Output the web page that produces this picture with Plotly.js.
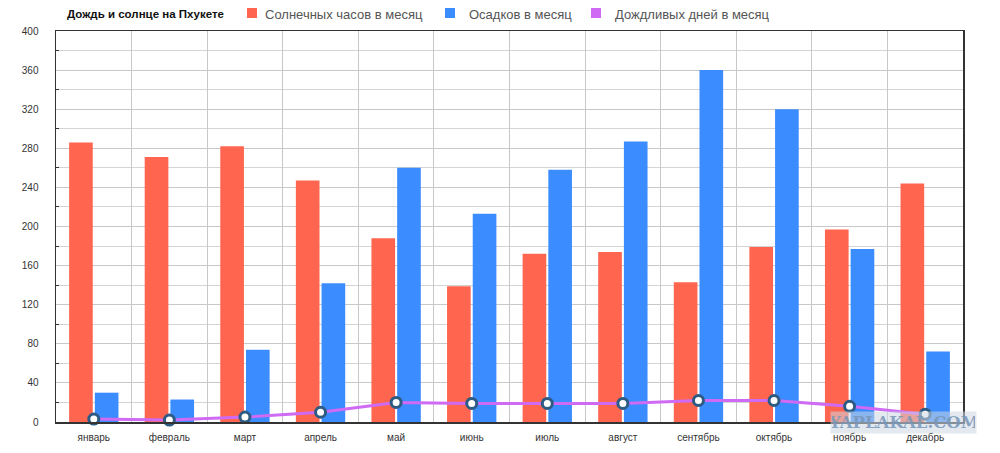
<!DOCTYPE html>
<html>
<head>
<meta charset="utf-8">
<script src="https://cdn.plot.ly/plotly-3.0.1.min.js"></script>
<style>html,body{margin:0;padding:0;background:#fff;}#chart{width:1000px;height:453px;}</style>
</head>
<body>
<div id="chart"></div>
<script>
const months = ["январь","февраль","март","апрель","май","июнь","июль","август","сентябрь","октябрь","ноябрь","декабрь"];
const sunHours = [286, 271, 282, 247, 188, 139, 172, 174, 143, 179, 197, 244];
const rainfall = [30, 23, 74, 142, 260, 213, 258, 287, 360, 320, 177, 72];
const rainyDays = [3, 2, 5, 10, 20, 19, 19, 19, 22, 22, 16, 8];
const seriesNames = ["Солнечных часов в месяц", "Осадков в месяц", "Дождливых дней в месяц"];
const seriesColors = ["#ff654f", "#3b8cff", "#cf6af5"];
const chartTitle = "Дождь и солнце на Пхукете";
const watermark = "YAPLAKAL.COM";

const L = 56, R = 963, T = 31, B = 422;
const px = x => (x - L) / (R - L);
const py = y => (B - y) / (B - T);

const traces = [
  {type: "bar", x: months, y: sunHours, name: seriesNames[0], marker: {color: seriesColors[0]}, showlegend: false, hoverinfo: "y"},
  {type: "bar", x: months, y: rainfall, name: seriesNames[1], marker: {color: seriesColors[1]}, showlegend: false, hoverinfo: "y"},
  {type: "scatter", mode: "lines+markers", x: months, y: rainyDays, name: seriesNames[2],
   line: {color: seriesColors[2], width: 3},
   marker: {size: 10, color: "#ffffff", line: {color: "#2d5b84", width: 3}},
   showlegend: false, cliponaxis: false}
];

const fontFam = "'Liberation Sans', Arial, Helvetica, sans-serif";

const shapes = [];
const annotations = [];
// title
annotations.push({xref: "paper", yref: "paper", x: px(65), y: py(14), xanchor: "left", yanchor: "middle",
  text: "<b>" + chartTitle + "</b>", showarrow: false,
  font: {family: "'Liberation Sans', Arial, sans-serif", size: 11.5, color: "#111"}});
// legend
const legSq = [247, 445, 591];
const legTx = [263, 467, 613];
for (let i = 0; i < 3; i++) {
  shapes.push({type: "rect", xref: "paper", yref: "paper", x0: px(legSq[i]), x1: px(legSq[i] + 10),
    y0: py(18), y1: py(8), fillcolor: seriesColors[i], line: {width: 0}});
  annotations.push({xref: "paper", yref: "paper", x: px(legTx[i]), y: py(14), xanchor: "left", yanchor: "middle",
    text: seriesNames[i], showarrow: false, font: {family: fontFam, size: 13, color: "#555"}});
}
// watermark
annotations.push({xref: "paper", yref: "paper", x: px(903), y: py(422), xanchor: "center", yanchor: "middle",
  text: "<b>" + watermark + "</b>", showarrow: false, bgcolor: "rgba(205,215,225,0.55)", width: 143, height: 19,
  font: {family: "'DejaVu Serif', serif", size: 16.5, color: "rgba(120,150,185,0.85)"}});

const layout = {
  width: 1000, height: 453,
  margin: {l: L, r: 1000 - R, t: T, b: 453 - B},
  paper_bgcolor: "#fff", plot_bgcolor: "#fff",
  barmode: "group", bargap: 0.32, bargroupgap: 0.08,
  font: {family: fontFam, size: 10, color: "#333"},
  xaxis: {type: "category", range: [-0.5, 11.5], tickson: "boundaries", showgrid: true, gridcolor: "#c8c8c8", gridwidth: 1,
    showline: true, mirror: true, linecolor: "#333", linewidth: 1.5, ticks: "", ticklabelstandoff: 5,
    tickfont: {family: fontFam, size: 10, color: "#333"}, zeroline: false, fixedrange: true},
  yaxis: {range: [0, 400], dtick: 40, tick0: 0, showgrid: true, gridcolor: "#c8c8c8", gridwidth: 1,
    showline: true, mirror: true, linecolor: "#333", linewidth: 1.5, ticks: "", ticklabelstandoff: 14,
    minor: {dtick: 20, showgrid: true, gridcolor: "#d4d4d4", gridwidth: 1, ticks: "inside", ticklen: 3, tickcolor: "#333"},
    tickfont: {family: fontFam, size: 10, color: "#333"}, zeroline: false, fixedrange: true},
  shapes: shapes,
  annotations: annotations,
  showlegend: false
};

Plotly.newPlot("chart", traces, layout, {displayModeBar: false, staticPlot: true});
</script>
</body>
</html>
